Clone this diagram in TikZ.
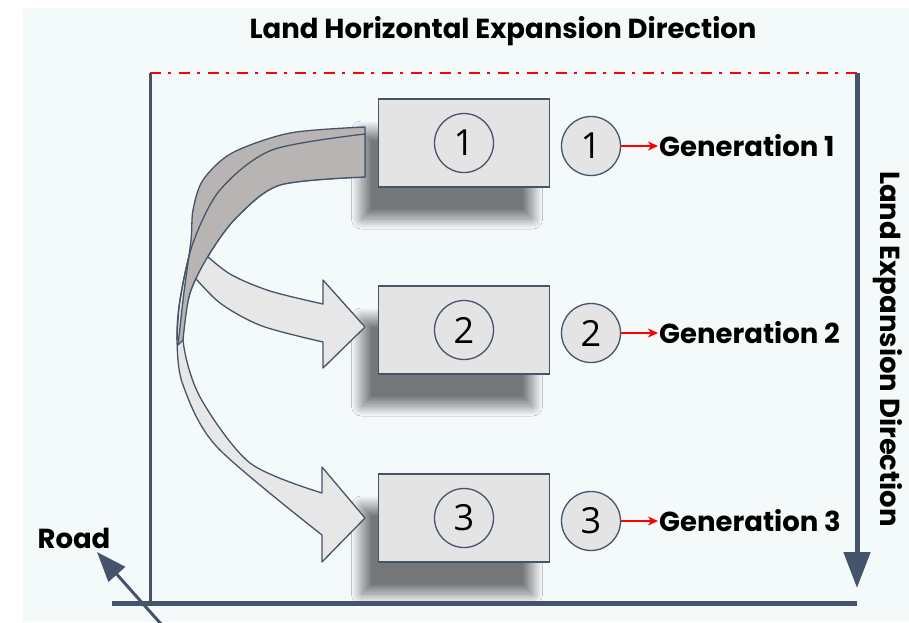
\documentclass[tikz,border=0pt]{standalone}
\usepackage{fontspec}
\setmainfont{Poppins}
\newfontfamily\numfont{Open Sans}
\usetikzlibrary{positioning}
\usetikzlibrary{arrows.meta,shadows.blur}
\definecolor{slate}{RGB}{68,84,106}
\definecolor{boxgray}{RGB}{228,228,228}
\definecolor{bandgray}{RGB}{185,180,180}
\definecolor{ribbon}{RGB}{231,231,231}
\definecolor{paper}{RGB}{244,249,250}
\tikzstyle{genbox}=[rectangle,fill=boxgray,draw=slate,line width=1.5pt,minimum width=171pt,minimum height=88pt,inner sep=0pt,blur shadow={shadow xshift=-17pt,shadow yshift=-32pt,shadow blur radius=10pt,shadow blur steps=20,shadow opacity=52}]
\tikzstyle{numcircle}=[circle,draw=slate,line width=1.3pt,minimum size=59pt,inner sep=0pt,font=\numfont\fontsize{36}{40}\selectfont]
\tikzstyle{gencircle}=[numcircle,fill=boxgray]
\tikzstyle{gentext}=[font=\bfseries\fontsize{27.5}{32}\selectfont,inner sep=1pt]
\tikzstyle{ribbonpart}=[draw=slate,line width=1.3pt,line join=round]
\tikzstyle{genarrow}=[red,line width=2pt,-{Stealth[length=10pt,width=9pt,inset=3pt]}]
\tikzstyle{bigarrow}=[slate,line width=5pt,-{Triangle[length=36pt,width=26pt]}]
\tikzstyle{roadarrow}=[slate,line width=3pt,-{Triangle[length=30pt,width=22pt]}]
\tikzstyle{redline}=[red,line width=2.5pt,dash pattern=on 11pt off 7pt on 3pt off 8pt]

\begin{document}
\begin{tikzpicture}[x=1pt,y=-1pt]

  \useasboundingbox (0,0) rectangle (909,622);
  \fill[paper] (23,8) rectangle (909,622);

  \node[gentext] (title) at (503,31) {Land Horizontal Expansion Direction};

  \foreach \y/\n in {143/1, 330/2, 518/3} {
     \node[genbox] (b\n) at (464,\y) {};
     \node[numcircle] (c\n) at (b\n) {\n};
     \node[gencircle] (g\n) at (591,\y+3) {\n};
     \node[gentext,anchor=west] (t\n) at (658,\y+3) {Generation \n};
     \draw[genarrow] (g\n) -- (t\n);
  }

  % arrow to generation 3
  \filldraw[ribbonpart,fill=ribbon] plot[smooth] coordinates {(365,134) (272,150) (220,190) (193,243) (180,300) (177,340) (183,385) (217,447) (322,535)}
      -- (322,562) -- (365,518) -- (322,467)
      -- plot[smooth] coordinates {(322,493) (250,463) (200,397) (183,340) (190,293) (210,253) (237,217) (280,185) (365,177)} -- cycle;

  % arrow to generation 2
  \filldraw[ribbonpart,fill=ribbon] plot[smooth] coordinates {(200,250) (230,274) (270,291) (323,304)}
      -- (323,280) -- (365,327) -- (323,368)
      -- plot[smooth] coordinates {(323,342) (262,326) (220,303) (190,272)} -- cycle;

  % back side
  \filldraw[ribbonpart,fill=bandgray] plot[smooth] coordinates {(365,127) (290,133) (232,153) (203,180) (193,210) (191,240) (184,292) (178,345)}
      -- plot[smooth] coordinates {(183,340) (190,293) (210,253) (237,217) (280,185) (365,177)} -- cycle;
  \draw[ribbonpart] plot[smooth] coordinates {(365,134) (272,150) (220,190) (193,243) (180,300) (177,340)};

  \coordinate (topleft) at (150,73);
  \coordinate (topright) at (857,73);
  \coordinate (arrowend) at (857,588);
  \coordinate (groundleft) at (112,603);
  \coordinate (groundright) at (857,603);
  \coordinate (footleft) at (150,603);

  \draw[redline] (topleft) -- (topright);
  \draw[slate,line width=3pt] (topleft) -- (footleft);
  \draw[slate,line width=5pt] (groundleft) -- (groundright);
  \draw[bigarrow] (topright) -- (arrowend);

  \node[gentext,rotate=-90] (side) at (888,349) {Land Expansion Direction};

  \node[gentext] (road) at (74,538) {Road};
  \coordinate (roadfoot) at (161,624);
  \coordinate (roadtip) at (97,552);
  \draw[roadarrow] (roadfoot) -- (roadtip);

\end{tikzpicture}
\end{document}
